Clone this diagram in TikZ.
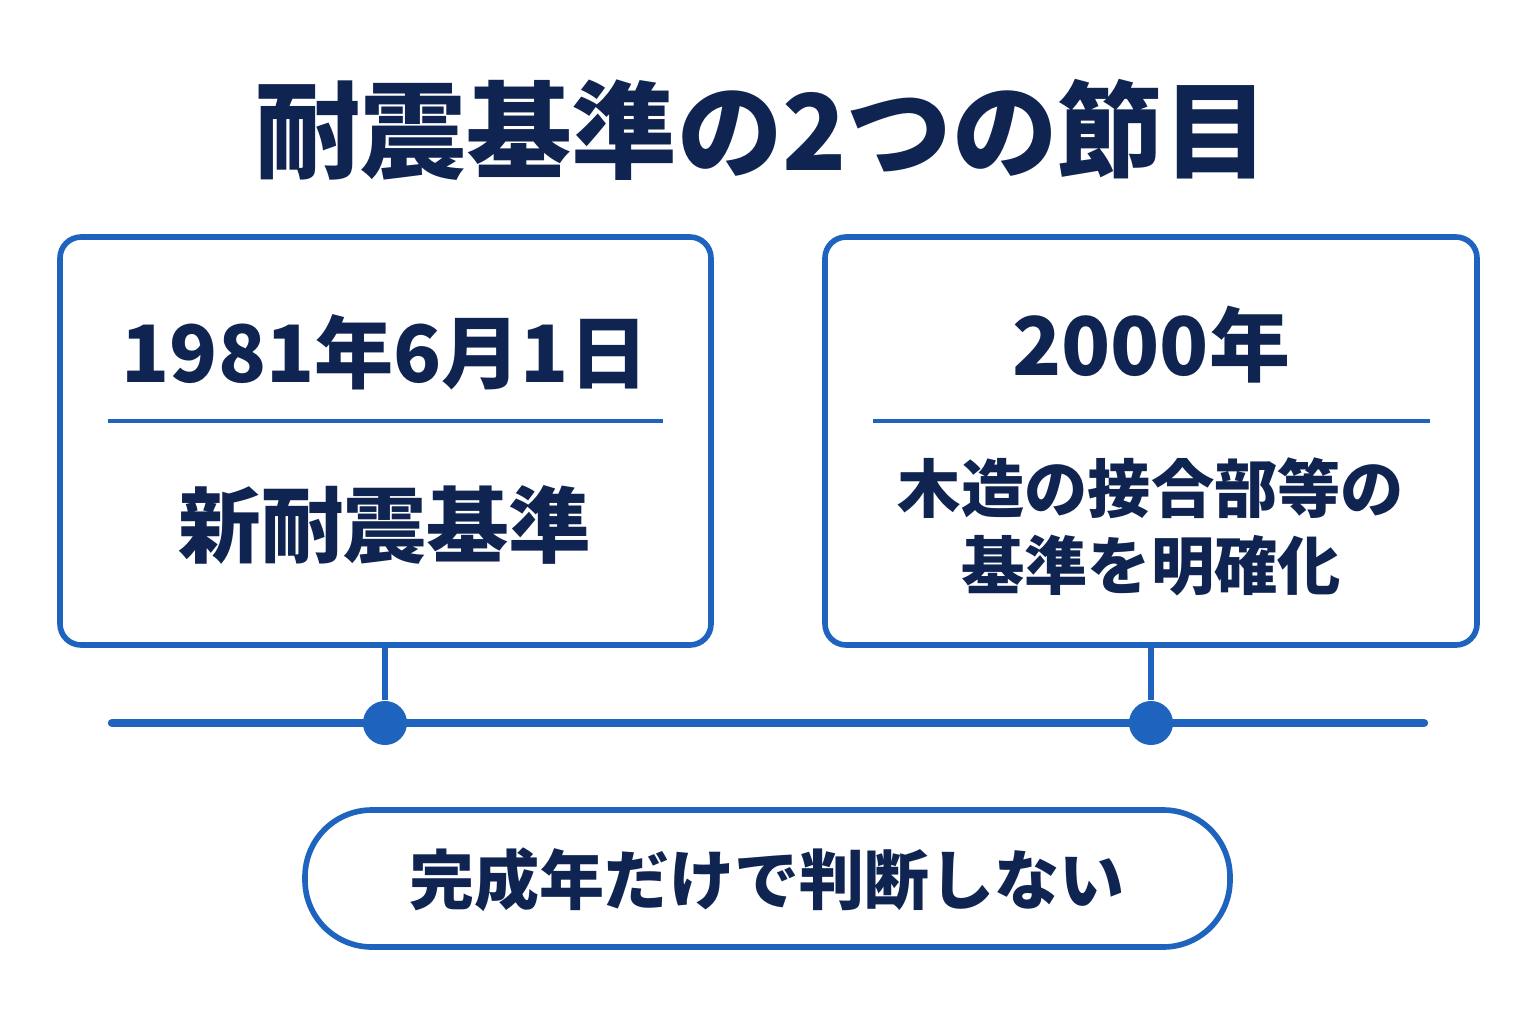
\documentclass[tikz,border=0pt]{standalone}
\usepackage{fontspec}
\setmainfont{Noto Sans CJK JP}
\usetikzlibrary{positioning}
\definecolor{monbleu}{RGB}{30,100,190}
\definecolor{monmarine}{RGB}{16,36,82}

\begin{document}
\begin{tikzpicture}[x=0.01cm,y=-0.01cm,
	texte/.style={text=monmarine,font=\bfseries},
	boite/.style={draw=monbleu,line width=1.6pt,rounded corners=6pt}]
	\useasboundingbox[fill=white] (0,0) rectangle (1536,1024);
	% Titre %
	\node[texte,font=\bfseries\fontsize{30}{33}\selectfont] (titre) at (762,130) {耐震基準の2つの節目};
	% Boite 1981 %
	\draw[boite] (60,237) rectangle (711,645);
	\node[texte,font=\bfseries\fontsize{22.5}{26}\selectfont] (date1) at (385,352) {1981年6月1日};
	\draw[monbleu,line width=1.2pt] (108,421) -- (663,421);
	\node[texte,font=\bfseries\fontsize{23.5}{26}\selectfont] (norme1) at (385,525) {新耐震基準};
	% Boite 2000 %
	\draw[boite] (825,237) rectangle (1477,645);
	\node[texte,font=\bfseries\fontsize{23}{26}\selectfont] (date2) at (1151,345) {2000年};
	\draw[monbleu,line width=1.2pt] (873,421) -- (1430,421);
	\node[texte,font=\bfseries\fontsize{18}{21}\selectfont,align=center] (norme2) at (1151,527) {木造の接合部等の\\[1pt]基準を明確化};
	% Frise %
	\coordinate (fg) at (112,723);
	\coordinate (fd) at (1424,723);
	\coordinate (h1) at (385,645);
	\coordinate (h2) at (1151,645);
	\draw[monbleu,line width=2.4pt,line cap=round] (fg) -- (fd);
	\node[circle,fill=monbleu,minimum size=0.44cm,inner sep=0pt] (p1) at (385,723) {};
	\node[circle,fill=monbleu,minimum size=0.44cm,inner sep=0pt] (p2) at (1151,723) {};
	\draw[monbleu,line width=1.8pt] (h1) -- (p1);
	\draw[monbleu,line width=1.8pt] (h2) -- (p2);
	% Conclusion %
	\draw[boite,rounded corners=19pt] (305,810) rectangle (1230,947);
	\node[texte,font=\bfseries\fontsize{18.5}{22}\selectfont] (fin) at (767,880) {完成年だけで判断しない};
\end{tikzpicture}
\end{document}
